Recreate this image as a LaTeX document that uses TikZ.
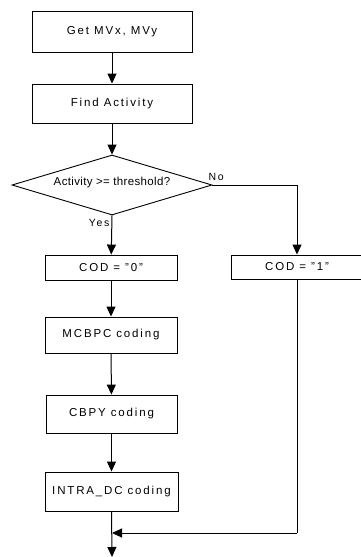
\documentclass[tikz,border=0pt]{standalone}
\usepackage{fontspec}
\setmainfont{Liberation Sans}[LetterSpace=16]
\newfontfamily\tightfont{Liberation Sans}[LetterSpace=3]
\usetikzlibrary{arrows.meta,shapes.geometric}
\begin{document}
\begin{tikzpicture}[x=1pt,y=-1pt,
  every node/.style={font=\fontsize{11.5}{13}\selectfont},
  procbox/.style={draw, line width=0.9pt, rectangle, inner sep=0pt},
  decision/.style={draw, line width=0.9pt, diamond, aspect=3.333, inner sep=0pt,
    minimum width=200pt, minimum height=60pt},
  flow/.style={line width=1pt, -{Triangle[length=10pt,width=9pt]}},
  wire/.style={line width=1pt},
  tag/.style={inner sep=1pt, font=\fontsize{10.5}{12}\selectfont}]
\useasboundingbox[fill=white] (0,0) rectangle (360,557);

\node[procbox, minimum width=160pt, minimum height=41pt] (mv)    at (112,31.5)  {Get MVx, MVy};
\node[procbox, minimum width=160pt, minimum height=39pt] (act)   at (112,103.5) {Find Activity};
\node[decision] (dec) at (112,185) {};
\node[font=\tightfont\fontsize{11.5}{13}\selectfont] (q) at (112,183) {Activity >= threshold?};
\node[procbox, minimum width=132pt, minimum height=25pt] (cod0)  at (111,267.5) {COD = "0"};
\node[procbox, minimum width=132pt, minimum height=24pt] (cod1)  at (297,267)   {COD = "1"};
\node[procbox, minimum width=132pt, minimum height=36pt] (mcbpc) at (111,335)   {MCBPC coding};
\node[procbox, minimum width=131pt, minimum height=38pt] (cbpy)  at (111.5,414) {CBPY coding};
\node[procbox, minimum width=133pt, minimum height=39pt] (intra) at (111.5,491.5) {INTRA\_DC coding};

\coordinate (merge) at (112,533);
\coordinate (out) at (112,557);
\coordinate (corner) at (297,533);

\draw[flow] (mv) -- (act);
\draw[flow] (act) -- (dec.north);
\draw[flow] (dec.south) -- (cod0)
  node[tag, pos=0.18, left=1pt] {Yes};
\draw[flow] (dec.east) -| (cod1.north);
\node[tag, anchor=south west] (no) at ([xshift=-5pt,yshift=3pt]dec.east) {No};
\draw[flow] (cod0) -- (mcbpc);
\draw[flow] (mcbpc) -- (cbpy);
\draw[flow] (cbpy) -- (intra);
\draw[flow] (intra.south) -- (out);
\draw[wire] (cod1.south) -- (corner);
\draw[flow] (corner) -- (merge);
\end{tikzpicture}
\end{document}
